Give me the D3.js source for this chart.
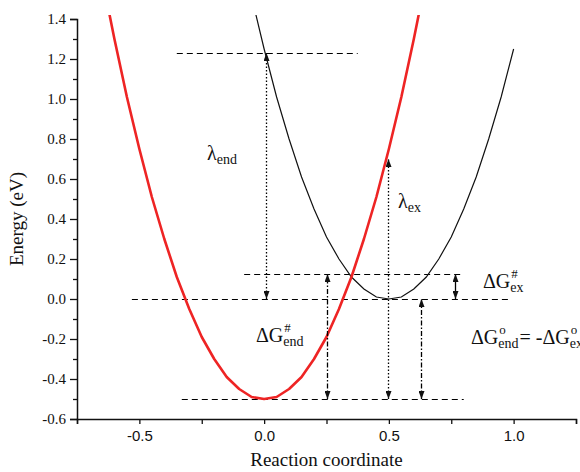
<!DOCTYPE html>
<html>
<head>
<meta charset="utf-8">
<script src="https://cdn.jsdelivr.net/npm/d3@7"></script>
<style>
  body { margin: 0; background: #fff; }
  svg { display: block; }
</style>
</head>
<body>
<div id="chart"></div>
<script>
/* DATA */
const redX = [-0.65, -0.6, -0.55, -0.5, -0.45, -0.4, -0.35, -0.3, -0.25, -0.2, -0.15, -0.1, -0.05, 0,
  0.05, 0.1, 0.15, 0.2, 0.25, 0.3, 0.35, 0.4, 0.45, 0.5, 0.55, 0.6, 0.65];
const redY = [1.61, 1.3, 1.01, 0.75, 0.51, 0.3, 0.11, -0.05, -0.19, -0.3, -0.39, -0.45, -0.49, -0.5,
  -0.49, -0.45, -0.39, -0.3, -0.19, -0.05, 0.11, 0.3, 0.51, 0.75, 1.01, 1.3, 1.61];
const blackX = [-0.05, 0, 0.05, 0.1, 0.15, 0.2, 0.25, 0.3, 0.35, 0.4, 0.45, 0.5,
  0.55, 0.6, 0.65, 0.7, 0.75, 0.8, 0.85, 0.9, 0.95, 1.0];
const blackY = [1.51, 1.25, 1.01, 0.8, 0.61, 0.45, 0.31, 0.2, 0.11, 0.05, 0.01, 0,
  0.01, 0.05, 0.11, 0.2, 0.31, 0.45, 0.61, 0.8, 1.01, 1.25];

// guide lines: level, from, to
const guideY = [1.23, 0.125, 0, -0.5];
const guideFrom = [-0.35, -0.08, -0.53, -0.33];
const guideTo = [0.375, 0.8, 0.99, 0.8];

// vertical arrows: x, bottom, top, style
const arrowX = [0.008, 0.495, 0.25, 0.765, 0.63];
const arrowLo = [0, -0.5, -0.5, 0, -0.5];
const arrowHi = [1.23, 0.7, 0.125, 0.125, 0];
const arrowKind = ["dot", "dot", "dashdot", "solid", "dashdot"];

const xTicks = [-0.5, 0.0, 0.5, 1.0];
const yTicks = [-0.6, -0.4, -0.2, 0.0, 0.2, 0.4, 0.6, 0.8, 1.0, 1.2, 1.4];

/* SIZES */
const width = 580, height = 472;
const margin = { top: 19, right: 4, bottom: 53, left: 77 };
const serif = "'Liberation Serif', 'Times New Roman', serif";
const sans = "'Liberation Sans', Arial, sans-serif";
const fmt = d => d3.format(".1f")(d).replace("\u2212", "-");

const svg = d3.select("#chart").append("svg")
  .attr("width", width)
  .attr("height", height);

/* SCALES */
const x = d3.scaleLinear().domain([-0.75, 1.25]).range([margin.left, width - margin.right]);
const y = d3.scaleLinear().domain([-0.6, 1.4]).range([height - margin.bottom, margin.top]);

const defs = svg.append("defs");
defs.append("clipPath").attr("id", "clip")
  .append("rect")
  .attr("x", margin.left).attr("y", margin.top - 4)
  .attr("width", width - margin.left - margin.right)
  .attr("height", height - margin.top - margin.bottom + 4);

const marker = defs.append("marker")
  .attr("id", "head")
  .attr("markerUnits", "userSpaceOnUse")
  .attr("viewBox", "0 0 8 6")
  .attr("refX", 8).attr("refY", 3)
  .attr("markerWidth", 8).attr("markerHeight", 6)
  .attr("orient", "auto-start-reverse");
marker.append("path").attr("d", "M0,0 L8,3 L0,6 Z").attr("fill", "#111");

/* AXES */
const yAxis = svg.append("g")
  .attr("transform", `translate(${margin.left},0)`)
  .call(d3.axisLeft(y).tickValues(yTicks).tickFormat(fmt).tickSize(7).tickPadding(4));
svg.append("g")
  .attr("transform", `translate(${margin.left},0)`)
  .call(d3.axisLeft(y).tickValues(d3.range(-0.5, 1.4, 0.2)).tickFormat("").tickSize(4))
  .select(".domain").remove();
yAxis.selectAll("text").attr("font-family", serif).attr("font-size", 15).attr("fill", "#111");

const xAxis = svg.append("g")
  .attr("transform", `translate(0,${height - margin.bottom})`)
  .call(d3.axisBottom(x).tickValues(xTicks).tickFormat(fmt).tickSize(5).tickPadding(6));
svg.append("g")
  .attr("transform", `translate(0,${height - margin.bottom})`)
  .call(d3.axisBottom(x).tickValues([-0.75, -0.25, 0.25, 0.75, 1.25]).tickFormat("").tickSize(5))
  .select(".domain").remove();
xAxis.selectAll("text").attr("font-family", sans).attr("font-size", 15).attr("fill", "#111");

svg.selectAll(".domain").attr("stroke", "#111").attr("stroke-width", 1.5);
svg.selectAll(".tick line").attr("stroke", "#111").attr("stroke-width", 1.3);

svg.append("text")
  .attr("x", (margin.left + width - margin.right) / 2)
  .attr("y", 466)
  .attr("text-anchor", "middle")
  .attr("font-family", serif).attr("font-size", 19).attr("fill", "#111")
  .text("Reaction coordinate");

svg.append("text")
  .attr("transform", `translate(23,${y(0.4)}) rotate(-90)`)
  .attr("text-anchor", "middle")
  .attr("font-family", serif).attr("font-size", 19).attr("fill", "#111")
  .text("Energy (eV)");

/* GUIDES */
svg.selectAll(".guide")
  .data(guideY)
  .join("line")
  .attr("class", "guide")
  .attr("x1", (d, i) => x(guideFrom[i]))
  .attr("x2", (d, i) => x(guideTo[i]))
  .attr("y1", d => Math.round(y(d)) + 0.5)
  .attr("y2", d => Math.round(y(d)) + 0.5)
  .attr("stroke", "#000")
  .attr("stroke-width", 1.1)
  .attr("stroke-dasharray", "6,4");

/* CURVES */
const plot = svg.append("g").attr("clip-path", "url(#clip)");
const line = d3.line().x(d => x(d[0])).y(d => y(d[1]));

plot.append("path")
  .datum(blackX.map((v, i) => [v, blackY[i]]))
  .attr("d", line)
  .attr("fill", "none")
  .attr("stroke", "#111")
  .attr("stroke-width", 1.2);

plot.append("path")
  .datum(redX.map((v, i) => [v, redY[i]]))
  .attr("d", line)
  .attr("fill", "none")
  .attr("stroke", "#ee2424")
  .attr("stroke-width", 2.6)
  .attr("stroke-linejoin", "round");

/* ARROWS */
const dash = { dot: "1.5,2", dashdot: "5,2,1.5,2", solid: null };
svg.selectAll(".arrow")
  .data(arrowX)
  .join("line")
  .attr("class", "arrow")
  .attr("x1", d => Math.round(x(d)) + 0.5)
  .attr("x2", d => Math.round(x(d)) + 0.5)
  .attr("y1", (d, i) => y(arrowLo[i]))
  .attr("y2", (d, i) => y(arrowHi[i]))
  .attr("stroke", "#000")
  .attr("stroke-width", 1.3)
  .attr("stroke-dasharray", (d, i) => dash[arrowKind[i]])
  .attr("marker-start", "url(#head)")
  .attr("marker-end", "url(#head)");

/* LABELS */
function label(px, py, main, sub, sup) {
  const t = svg.append("text")
    .attr("x", px).attr("y", py)
    .attr("font-family", serif).attr("font-size", 20).attr("fill", "#111")
    .text(main);
  const w = t.node().getComputedTextLength();
  let ws = 0;
  if (sub) {
    const s = svg.append("text")
      .attr("x", px + w).attr("y", py + 4)
      .attr("font-family", serif).attr("font-size", 14).attr("fill", "#111")
      .text(sub);
    ws = s.node().getComputedTextLength();
  }
  if (sup) {
    svg.append("text")
      .attr("x", px + w + 1).attr("y", py - 10)
      .attr("font-family", serif).attr("font-size", 13).attr("fill", "#111")
      .text(sup);
  }
  return w + ws;
}

label(207, 160, "\u03bb", "end");
label(398, 208, "\u03bb", "ex");
label(256, 342, "\u0394G", "end", "#");
label(483, 288, "\u0394G", "ex", "#");
const w1 = label(471, 344, "\u0394G", "end", "o");
label(471 + w1 + 1, 344, "= -\u0394G", "ex", "o");
</script>
</body>
</html>
